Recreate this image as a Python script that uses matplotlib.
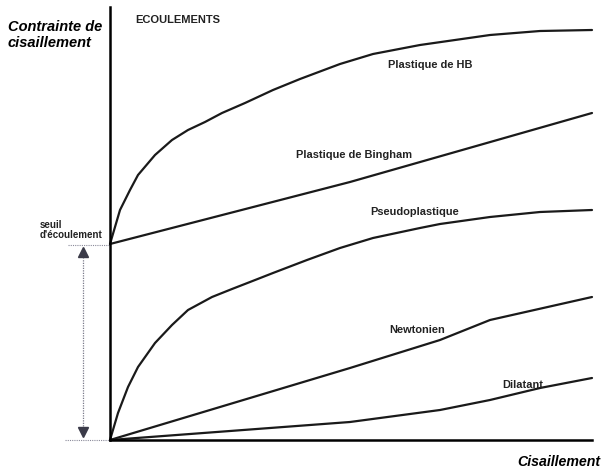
import matplotlib.pyplot as plt

plt.rcParams['font.family'] = ['Liberation Sans', 'DejaVu Sans']

# curves (shear rate, stress), origin at the axes corner
hb_x = [0, 10, 20, 28, 45, 62, 78, 95, 112, 135, 163, 190, 230, 263, 310, 380, 430, 482]
hb_y = [196, 230, 250, 265, 285, 300, 310, 318, 327, 337, 350, 361, 376, 386, 395, 405, 409, 410]

bingham_x = [0, 240, 482]
bingham_y = [196, 258, 327]

pseudo_x = [0, 8, 18, 28, 45, 62, 78, 102, 122, 140, 163, 197, 230, 263, 310, 330, 380, 430, 482]
pseudo_y = [0, 27, 53, 73, 97, 115, 130, 143, 151, 158, 167, 180, 192, 202, 212, 216, 223, 228, 230]

newton_x = [0, 240, 330, 380, 482]
newton_y = [0, 72, 100, 120, 143]

dilatant_x = [0, 240, 330, 380, 430, 482]
dilatant_y = [0, 18, 30, 40, 52, 62]

yield_stress = 195

labels = ['Plastique de HB', 'Plastique de Bingham', 'Pseudoplastique', 'Newtonien', 'Dilatant']
label_pos = [(278, 375), (186, 285), (260, 228), (279, 110), (392, 55)]

fig = plt.figure(figsize=(6.01, 4.70), dpi=100)
ax = fig.add_axes([0, 0, 1, 1])
ax.set_xlim(-110, 491)
ax.set_ylim(-30, 440)

for xs, ys in [(hb_x, hb_y), (bingham_x, bingham_y), (pseudo_x, pseudo_y),
               (newton_x, newton_y), (dilatant_x, dilatant_y)]:
    ax.plot(xs, ys, color='#1a1a1a', lw=1.6, solid_capstyle='round', solid_joinstyle='round')

for txt, (x, y) in zip(labels, label_pos):
    ax.text(x, y, txt, fontsize=7.9, fontweight='bold', ha='left', va='center', color='#222222')

# axes as spines through the origin
for s in ['top', 'right']:
    ax.spines[s].set_visible(False)
ax.spines['left'].set_position(('data', 0))
ax.spines['bottom'].set_position(('data', 0))
ax.spines['left'].set_bounds(0, 433)
ax.spines['bottom'].set_bounds(0, 482)
ax.spines['left'].set_linewidth(1.8)
ax.spines['bottom'].set_linewidth(1.8)
ax.set_xticks([])
ax.set_yticks([])

# yield stress markers
ax.plot([-42, 0], [yield_stress, yield_stress], color='#8a8a9a', lw=0.8, ls=(0, (1, 1)))
ax.plot([-45, 0], [0, 0], color='#8a8a9a', lw=0.8, ls=(0, (1, 1)))
ax.plot([-27, -27], [14, 182], color='#7a7a8a', lw=0.9, ls=(0, (1, 1)))
ax.plot(-27, 188, marker='^', color='#3a3a48', markersize=7)
ax.plot(-27, 8, marker='v', color='#3a3a48', markersize=7)
ax.text(-70, 210, "seuil\nd'écoulement", fontsize=7, fontweight='bold',
        ha='left', va='center', linespacing=1.0, color='#222222')

ax.text(-102, 405, 'Contrainte de\ncisaillement', fontsize=10.5, fontweight='bold',
        fontstyle='italic', ha='left', va='center', linespacing=1.15)
ax.text(490, -22, 'Cisaillement', fontsize=10.2, fontweight='bold',
        fontstyle='italic', ha='right', va='center')
ax.text(25, 420, 'ECOULEMENTS', fontsize=8, fontweight='bold', ha='left', va='center',
        color='#222222')

fig.savefig('out.png', dpi=100)
